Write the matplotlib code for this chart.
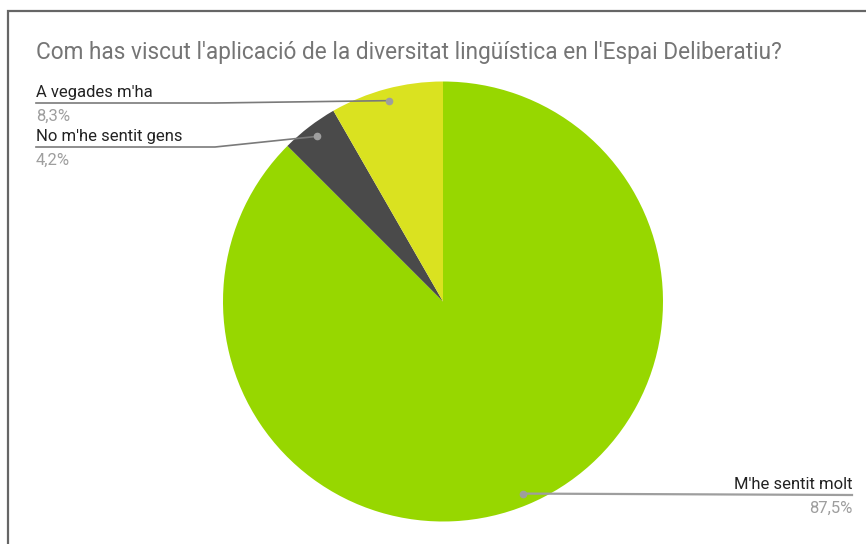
import numpy as np
import matplotlib.pyplot as plt

# chart data
categories = ["M'he sentit molt", "No m'he sentit gens", "A vegades m'ha"]
values = [87.5, 4.2, 8.3]
colors = ["#97d700", "#4a4a4a", "#dae220"]
title = "Com has viscut l'aplicació de la diversitat lingüística en l'Espai Deliberatiu?"

W, H = 866, 544
plt.rcParams['font.family'] = ['Roboto', 'DejaVu Sans']

fig = plt.figure(figsize=(W / 100, H / 100), dpi=100)
ax = fig.add_axes([0, 0, 1, 1])

# pixel y (from top) -> data y
def py(y):
    return H - y

# frame (left and top edges visible)
ax.plot([8, 8, W], [0, py(11), py(11)], color="#666666", lw=1.6, solid_joinstyle='miter')

ax.text(36, py(52), title, fontsize=16.3, color="#757575", va='center', ha='left')

cx, cy, R = 443, py(301.5), 220
wedges, _ = ax.pie(values, colors=colors, startangle=90, counterclock=False,
                   center=(cx, cy), radius=R, frame=True,
                   wedgeprops=dict(linewidth=0))
ax.set_xlim(0, W)
ax.set_ylim(0, H)
ax.set_aspect('equal')
ax.axis('off')

# label layout: (text x, underline y, align, elbow x)
layout = {
    "A vegades m'ha": (36, 103, 'left', 215),
    "No m'he sentit gens": (36, 147, 'left', 215),
    "M'he sentit molt": (852, 495, 'right', None),
}

for w, cat, v in zip(wedges, categories, values):
    mid = np.deg2rad((w.theta1 + w.theta2) / 2)
    dx = cx + 0.945 * R * np.cos(mid)
    dy = cy + 0.945 * R * np.sin(mid)
    tx, uy, ha, elbow = layout[cat]
    pct = f"{v:.1f}%".replace('.', ',')
    if ha == 'left':
        ax.plot([tx, elbow, dx], [py(uy), py(uy), dy], color="#7a7a7a", lw=1.2)
    else:
        ax.plot([dx, tx], [dy, py(uy)], color="#9e9e9e", lw=1.6)
    ax.plot(dx, dy, 'o', color="#9e9e9e", ms=4.5)
    ax.text(tx, py(uy - 3), cat, fontsize=12, color="#222222", ha=ha, va='bottom')
    ax.text(tx, py(uy + 6), pct, fontsize=12, color="#9e9e9e", ha=ha, va='top')

fig.savefig("out.png", dpi=100)
